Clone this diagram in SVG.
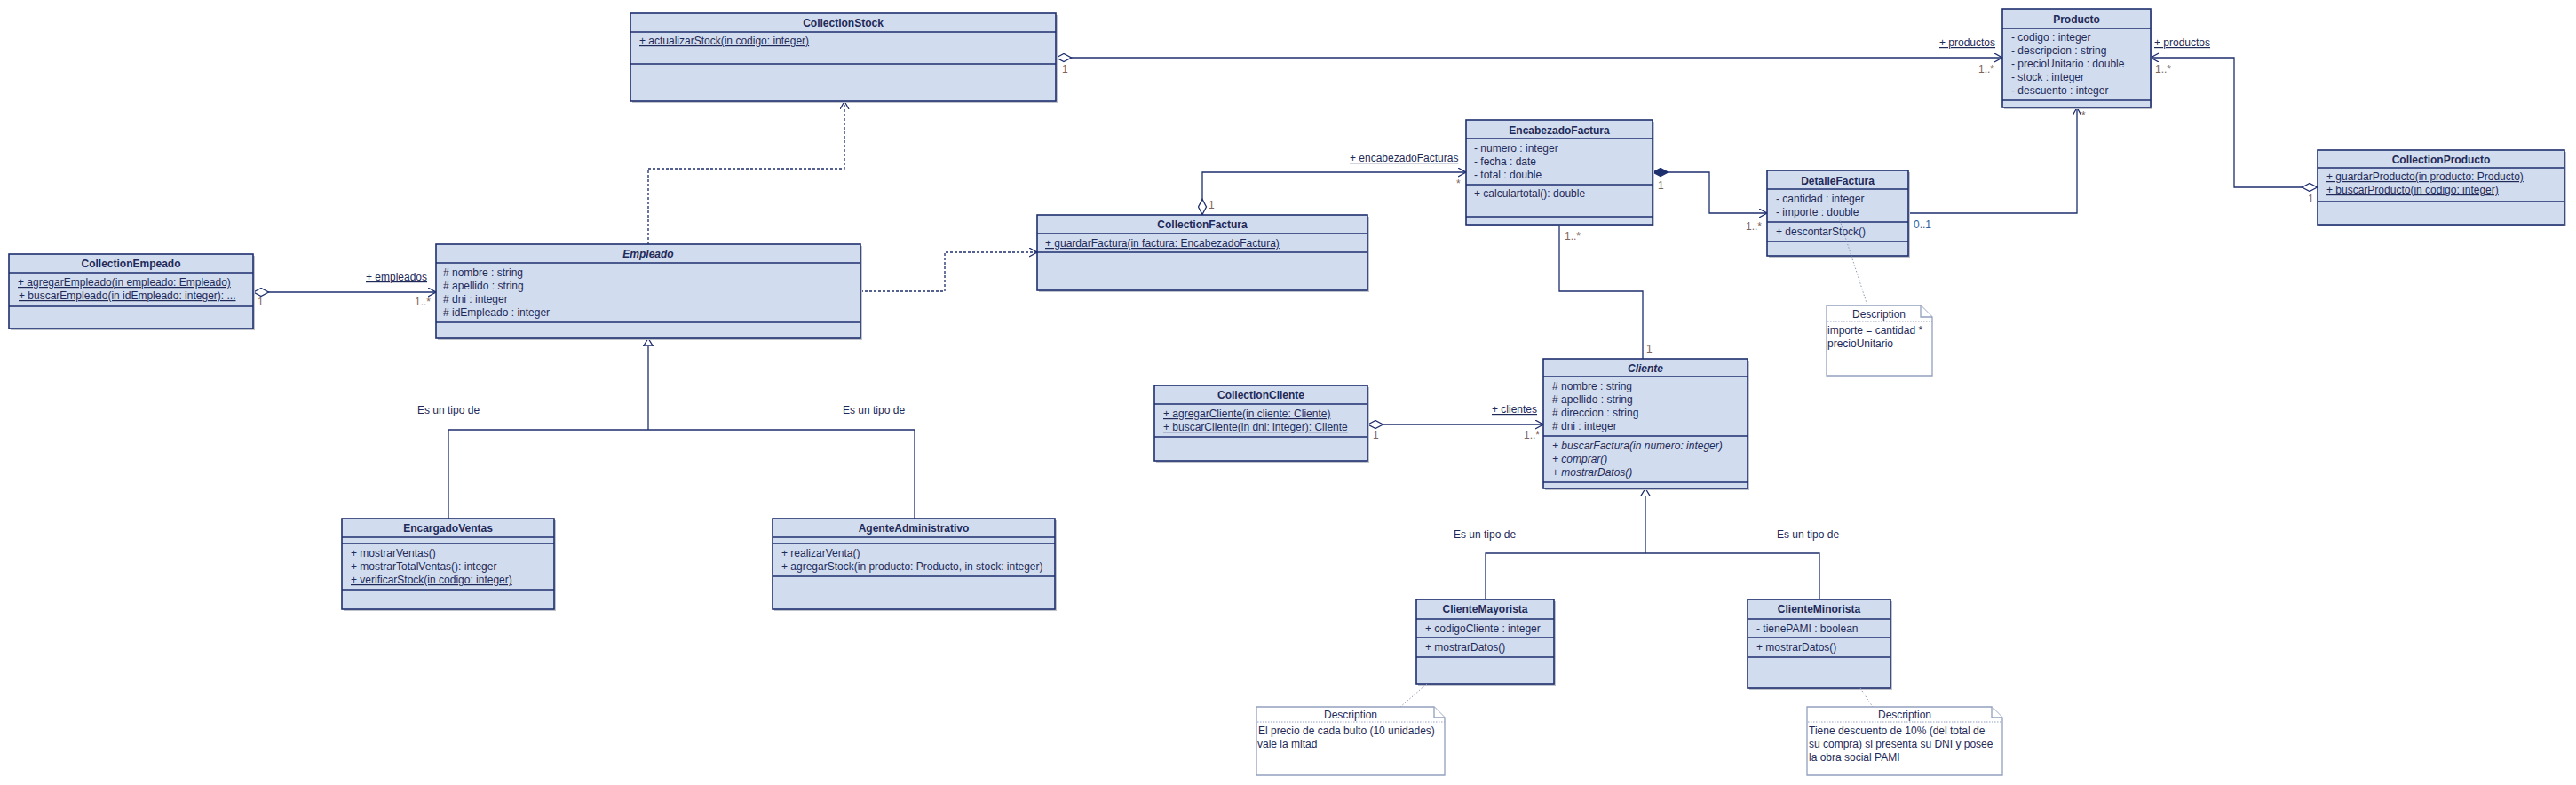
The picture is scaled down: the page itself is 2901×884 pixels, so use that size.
<svg xmlns="http://www.w3.org/2000/svg" width="2901" height="884" viewBox="0 0 2901 884">
<style>
  text { font-family: "Liberation Sans", Arial, sans-serif; font-size: 12px; fill: #1F2A58; }
  .title { font-weight: bold; text-anchor: middle; }
  .abs { font-style: italic; }
  .u { text-decoration: underline; }
  .mult { fill: #7D665A; }
  .box { fill: #D1DCEF; stroke: #1E2F6E; stroke-width: 1.6; }
  .shadow { fill: #BFC3CB; }
  .div { stroke: #1E2F6E; stroke-width: 1.4; }
  .line { fill: none; stroke: #1E2F6E; stroke-width: 1.3; }
  .dep { fill: none; stroke: #1E2F6E; stroke-width: 1.3; stroke-dasharray: 3 2; }
  .note { fill: #FFFFFF; stroke: #93A0BE; stroke-width: 1.3; }
  .notesep { stroke: #93A0BE; stroke-width: 1; stroke-dasharray: 1.5 1.5; }
  .notelink { fill: none; stroke: #8E9AB6; stroke-width: 1; stroke-dasharray: 1.5 2; }
  .center { text-anchor: middle; }
</style>
<defs>
  <marker id="open" markerUnits="userSpaceOnUse" markerWidth="12" markerHeight="12" refX="9" refY="5" orient="auto">
    <path d="M0,0 L9,5 L0,10" fill="none" stroke="#1E2F6E" stroke-width="1.3"/>
  </marker>
  <marker id="dia" markerUnits="userSpaceOnUse" markerWidth="20" markerHeight="12" refX="0" refY="5" orient="auto">
    <path d="M0.5,5 L9,0.5 L17.5,5 L9,9.5 Z" fill="#FFFFFF" stroke="#1E2F6E" stroke-width="1.3"/>
  </marker>
  <marker id="fdia" markerUnits="userSpaceOnUse" markerWidth="20" markerHeight="12" refX="0" refY="5" orient="auto">
    <path d="M0.5,5 L9,0.5 L17.5,5 L9,9.5 Z" fill="#1E2F6E" stroke="#1E2F6E" stroke-width="1.3"/>
  </marker>
  <marker id="gen" markerUnits="userSpaceOnUse" markerWidth="12" markerHeight="14" refX="9" refY="6" orient="auto">
    <path d="M0,0.5 L9,6 L0,11.5 Z" fill="#FFFFFF" stroke="#1E2F6E" stroke-width="1.3"/>
  </marker>
</defs>
<rect width="2901" height="884" fill="#FFFFFF"/>

<g id="connectors">
  <!-- CollectionStock -> Producto -->
  <path class="line" d="M1189,65 L2255,65" marker-start="url(#dia)" marker-end="url(#open)"/>
  <text x="2184" y="52" class="u">+ productos</text>
  <text x="2228" y="82" class="mult">1..*</text>
  <text x="1196" y="82" class="mult">1</text>
  <!-- CollectionProducto -> Producto -->
  <path class="line" d="M2610,211 L2516,211 L2516,65 L2422,65" marker-start="url(#dia)" marker-end="url(#open)"/>
  <text x="2426" y="52" class="u">+ productos</text>
  <text x="2427" y="82" class="mult">1..*</text>
  <text x="2599" y="228" class="mult">1</text>
  <!-- DetalleFactura -> Producto -->
  <path class="line" d="M2149,240 L2339,240 L2339,121" marker-end="url(#open)"/>
  <text x="2344" y="134" class="mult">*</text>
  <text x="2155" y="257" fill="#2F5E9C" style="fill:#2F5E9C">0..1</text>
  <!-- EncabezadoFactura -> DetalleFactura (composition) -->
  <path class="line" d="M1861,194 L1925,194 L1925,240 L1990,240" marker-start="url(#fdia)" marker-end="url(#open)"/>
  <text x="1867" y="213" class="mult">1</text>
  <text x="1966" y="259" class="mult">1..*</text>
  <!-- CollectionFactura -> EncabezadoFactura -->
  <path class="line" d="M1354,242 L1354,194 L1651,194" marker-start="url(#dia)" marker-end="url(#open)"/>
  <text x="1520" y="182" class="u">+ encabezadoFacturas</text>
  <text x="1640" y="211" class="mult">*</text>
  <text x="1361" y="235" class="mult">1</text>
  <!-- EncabezadoFactura - Cliente -->
  <path class="line" d="M1756,253 L1756,328 L1850,328 L1850,404"/>
  <text x="1762" y="270" class="mult">1..*</text>
  <text x="1854" y="397" class="mult">1</text>
  <!-- CollectionCliente -> Cliente -->
  <path class="line" d="M1540,478 L1738,478" marker-start="url(#dia)" marker-end="url(#open)"/>
  <text x="1680" y="465" class="u">+ clientes</text>
  <text x="1716" y="494" class="mult">1..*</text>
  <text x="1546" y="494" class="mult">1</text>
  <!-- CollectionEmpeado -> Empleado -->
  <path class="line" d="M285,329 L491,329" marker-start="url(#dia)" marker-end="url(#open)"/>
  <text x="412" y="316" class="u">+ empleados</text>
  <text x="467" y="344" class="mult">1..*</text>
  <text x="290" y="344" class="mult">1</text>
  <!-- Empleado ..> CollectionStock -->
  <path class="dep" d="M730,275 L730,190 L951,190 L951,114" marker-end="url(#open)"/>
  <!-- Empleado ..> CollectionFactura -->
  <path class="dep" d="M969,328 L1064,328 L1064,284 L1168,284" marker-end="url(#open)"/>
  <!-- Generalization Empleado -->
  <path class="line" d="M730,484 L730,381" marker-end="url(#gen)"/>
  <path class="line" d="M505,584 L505,484 L1030,484 L1030,584"/>
  <text x="470" y="466">Es un tipo de</text>
  <text x="949" y="466">Es un tipo de</text>
  <!-- Generalization Cliente -->
  <path class="line" d="M1853,623 L1853,550" marker-end="url(#gen)"/>
  <path class="line" d="M1673,675 L1673,623 L2049,623 L2049,675"/>
  <text x="1637" y="606">Es un tipo de</text>
  <text x="2001" y="606">Es un tipo de</text>
</g>

<g id="CollectionStock">
  <rect class="shadow" x="712" y="17" width="479" height="99"/>
  <rect class="box" x="710" y="15" width="479" height="99"/>
  <line class="div" x1="710" y1="36" x2="1189" y2="36"/>
  <line class="div" x1="710" y1="72" x2="1189" y2="72"/>
  <text class="title" x="949.5" y="30">CollectionStock</text>
  <text x="720" y="50" class="u">+ actualizarStock(in codigo: integer)</text>
</g>

<g id="Producto">
  <rect class="shadow" x="2257" y="12" width="167" height="111"/>
  <rect class="box" x="2255" y="10" width="167" height="111"/>
  <line class="div" x1="2255" y1="32" x2="2422" y2="32"/>
  <line class="div" x1="2255" y1="113" x2="2422" y2="113"/>
  <text class="title" x="2338.5" y="26">Producto</text>
  <text x="2265" y="46">- codigo : integer</text>
  <text x="2265" y="61">- descripcion : string</text>
  <text x="2265" y="76">- precioUnitario : double</text>
  <text x="2265" y="91">- stock : integer</text>
  <text x="2265" y="106">- descuento : integer</text>
</g>

<g id="CollectionProducto">
  <rect class="shadow" x="2612" y="171" width="278" height="84"/>
  <rect class="box" x="2610" y="169" width="278" height="84"/>
  <line class="div" x1="2610" y1="189" x2="2888" y2="189"/>
  <line class="div" x1="2610" y1="227" x2="2888" y2="227"/>
  <text class="title" x="2749" y="184">CollectionProducto</text>
  <text x="2620" y="203" class="u">+ guardarProducto(in producto: Producto)</text>
  <text x="2620" y="218" class="u">+ buscarProducto(in codigo: integer)</text>
</g>

<g id="EncabezadoFactura">
  <rect class="shadow" x="1653" y="137" width="210" height="118"/>
  <rect class="box" x="1651" y="135" width="210" height="118"/>
  <line class="div" x1="1651" y1="156" x2="1861" y2="156"/>
  <line class="div" x1="1651" y1="208" x2="1861" y2="208"/>
  <line class="div" x1="1651" y1="244" x2="1861" y2="244"/>
  <text class="title" x="1756" y="151">EncabezadoFactura</text>
  <text x="1660" y="171">- numero : integer</text>
  <text x="1660" y="186">- fecha : date</text>
  <text x="1660" y="201">- total : double</text>
  <text x="1660" y="222">+ calculartotal(): double</text>
</g>

<g id="DetalleFactura">
  <rect class="shadow" x="1992" y="194" width="159" height="96"/>
  <rect class="box" x="1990" y="192" width="159" height="96"/>
  <line class="div" x1="1990" y1="213" x2="2149" y2="213"/>
  <line class="div" x1="1990" y1="250" x2="2149" y2="250"/>
  <line class="div" x1="1990" y1="272" x2="2149" y2="272"/>
  <text class="title" x="2069.5" y="208">DetalleFactura</text>
  <text x="2000" y="228">- cantidad : integer</text>
  <text x="2000" y="243">- importe : double</text>
  <text x="2000" y="265">+ descontarStock()</text>
</g>

<g id="CollectionFactura">
  <rect class="shadow" x="1170" y="244" width="372" height="85"/>
  <rect class="box" x="1168" y="242" width="372" height="85"/>
  <line class="div" x1="1168" y1="263" x2="1540" y2="263"/>
  <line class="div" x1="1168" y1="284" x2="1540" y2="284"/>
  <text class="title" x="1354" y="257">CollectionFactura</text>
  <text x="1177" y="278" class="u">+ guardarFactura(in factura: EncabezadoFactura)</text>
</g>

<g id="CollectionEmpeado">
  <rect class="shadow" x="12" y="288" width="275" height="84"/>
  <rect class="box" x="10" y="286" width="275" height="84"/>
  <line class="div" x1="10" y1="307" x2="285" y2="307"/>
  <line class="div" x1="10" y1="345" x2="285" y2="345"/>
  <text class="title" x="147.5" y="301">CollectionEmpeado</text>
  <text x="20" y="322" class="u">+ agregarEmpleado(in empleado: Empleado)</text>
  <text x="21" y="337" class="u">+ buscarEmpleado(in idEmpleado: integer): ...</text>
</g>

<g id="Empleado">
  <rect class="shadow" x="493" y="277" width="478" height="106"/>
  <rect class="box" x="491" y="275" width="478" height="106"/>
  <line class="div" x1="491" y1="296" x2="969" y2="296"/>
  <line class="div" x1="491" y1="363" x2="969" y2="363"/>
  <text class="title abs" x="730" y="290">Empleado</text>
  <text x="499" y="311"># nombre : string</text>
  <text x="499" y="326"># apellido : string</text>
  <text x="499" y="341"># dni : integer</text>
  <text x="499" y="356"># idEmpleado : integer</text>
</g>

<g id="EncargadoVentas">
  <rect class="shadow" x="387" y="586" width="239" height="102"/>
  <rect class="box" x="385" y="584" width="239" height="102"/>
  <line class="div" x1="385" y1="605" x2="624" y2="605"/>
  <line class="div" x1="385" y1="612" x2="624" y2="612"/>
  <line class="div" x1="385" y1="664" x2="624" y2="664"/>
  <text class="title" x="504.5" y="599">EncargadoVentas</text>
  <text x="395" y="627">+ mostrarVentas()</text>
  <text x="395" y="642">+ mostrarTotalVentas(): integer</text>
  <text x="395" y="657" class="u">+ verificarStock(in codigo: integer)</text>
</g>

<g id="AgenteAdministrativo">
  <rect class="shadow" x="872" y="586" width="318" height="102"/>
  <rect class="box" x="870" y="584" width="318" height="102"/>
  <line class="div" x1="870" y1="605" x2="1188" y2="605"/>
  <line class="div" x1="870" y1="612" x2="1188" y2="612"/>
  <line class="div" x1="870" y1="649" x2="1188" y2="649"/>
  <text class="title" x="1029" y="599">AgenteAdministrativo</text>
  <text x="880" y="627">+ realizarVenta()</text>
  <text x="880" y="642">+ agregarStock(in producto: Producto, in stock: integer)</text>
</g>

<g id="CollectionCliente">
  <rect class="shadow" x="1302" y="436" width="240" height="85"/>
  <rect class="box" x="1300" y="434" width="240" height="85"/>
  <line class="div" x1="1300" y1="455" x2="1540" y2="455"/>
  <line class="div" x1="1300" y1="492" x2="1540" y2="492"/>
  <text class="title" x="1420" y="449">CollectionCliente</text>
  <text x="1310" y="470" class="u">+ agregarCliente(in cliente: Cliente)</text>
  <text x="1310" y="485" class="u">+ buscarCliente(in dni: integer): Cliente</text>
</g>

<g id="Cliente">
  <rect class="shadow" x="1740" y="406" width="230" height="146"/>
  <rect class="box" x="1738" y="404" width="230" height="146"/>
  <line class="div" x1="1738" y1="424" x2="1968" y2="424"/>
  <line class="div" x1="1738" y1="491" x2="1968" y2="491"/>
  <line class="div" x1="1738" y1="543" x2="1968" y2="543"/>
  <text class="title abs" x="1853" y="419">Cliente</text>
  <text x="1748" y="439"># nombre : string</text>
  <text x="1748" y="454"># apellido : string</text>
  <text x="1748" y="469"># direccion : string</text>
  <text x="1748" y="484"># dni : integer</text>
  <text x="1748" y="506" class="abs">+ buscarFactura(in numero: integer)</text>
  <text x="1748" y="521" class="abs">+ comprar()</text>
  <text x="1748" y="536" class="abs">+ mostrarDatos()</text>
</g>

<g id="ClienteMayorista">
  <rect class="shadow" x="1597" y="677" width="155" height="95"/>
  <rect class="box" x="1595" y="675" width="155" height="95"/>
  <line class="div" x1="1595" y1="697" x2="1750" y2="697"/>
  <line class="div" x1="1595" y1="718" x2="1750" y2="718"/>
  <line class="div" x1="1595" y1="740" x2="1750" y2="740"/>
  <text class="title" x="1672.5" y="690">ClienteMayorista</text>
  <text x="1605" y="712">+ codigoCliente : integer</text>
  <text x="1605" y="733">+ mostrarDatos()</text>
</g>

<g id="ClienteMinorista">
  <rect class="shadow" x="1970" y="677" width="161" height="100"/>
  <rect class="box" x="1968" y="675" width="161" height="100"/>
  <line class="div" x1="1968" y1="697" x2="2129" y2="697"/>
  <line class="div" x1="1968" y1="718" x2="2129" y2="718"/>
  <line class="div" x1="1968" y1="740" x2="2129" y2="740"/>
  <text class="title" x="2048.5" y="690">ClienteMinorista</text>
  <text x="1978" y="712">- tienePAMI : boolean</text>
  <text x="1978" y="733">+ mostrarDatos()</text>
</g>

<g id="notes">
  <path class="notelink" d="M2071,245 L2103,344"/>
  <path class="notelink" d="M1607,770 L1577,796"/>
  <path class="notelink" d="M2095,775 L2109,796"/>
</g>

<g id="NoteDetalle">
  <path class="note" d="M2057,344 L2163,344 L2176,357 L2176,423 L2057,423 Z"/>
  <path class="note" d="M2163,344 L2163,357 L2176,357" fill="none"/>
  <line class="notesep" x1="2058" y1="362" x2="2176" y2="362"/>
  <text class="center" x="2116" y="358">Description</text>
  <text x="2058" y="376">importe = cantidad *</text>
  <text x="2058" y="391">precioUnitario</text>
</g>

<g id="NoteMayorista">
  <path class="note" d="M1415,796 L1615,796 L1627,808 L1627,873 L1415,873 Z"/>
  <path class="note" d="M1615,796 L1615,808 L1627,808" fill="none"/>
  <line class="notesep" x1="1416" y1="813" x2="1627" y2="813"/>
  <text class="center" x="1521" y="809">Description</text>
  <text x="1417" y="827">El precio de cada bulto (10 unidades)</text>
  <text x="1416" y="842">vale la mitad</text>
</g>

<g id="NoteMinorista">
  <path class="note" d="M2035,796 L2243,796 L2255,808 L2255,873 L2035,873 Z"/>
  <path class="note" d="M2243,796 L2243,808 L2255,808" fill="none"/>
  <line class="notesep" x1="2036" y1="813" x2="2255" y2="813"/>
  <text class="center" x="2145" y="809">Description</text>
  <text x="2037" y="827">Tiene descuento de 10% (del total de</text>
  <text x="2037" y="842">su compra) si presenta su DNI y posee</text>
  <text x="2037" y="857">la obra social PAMI</text>
</g>
</svg>
